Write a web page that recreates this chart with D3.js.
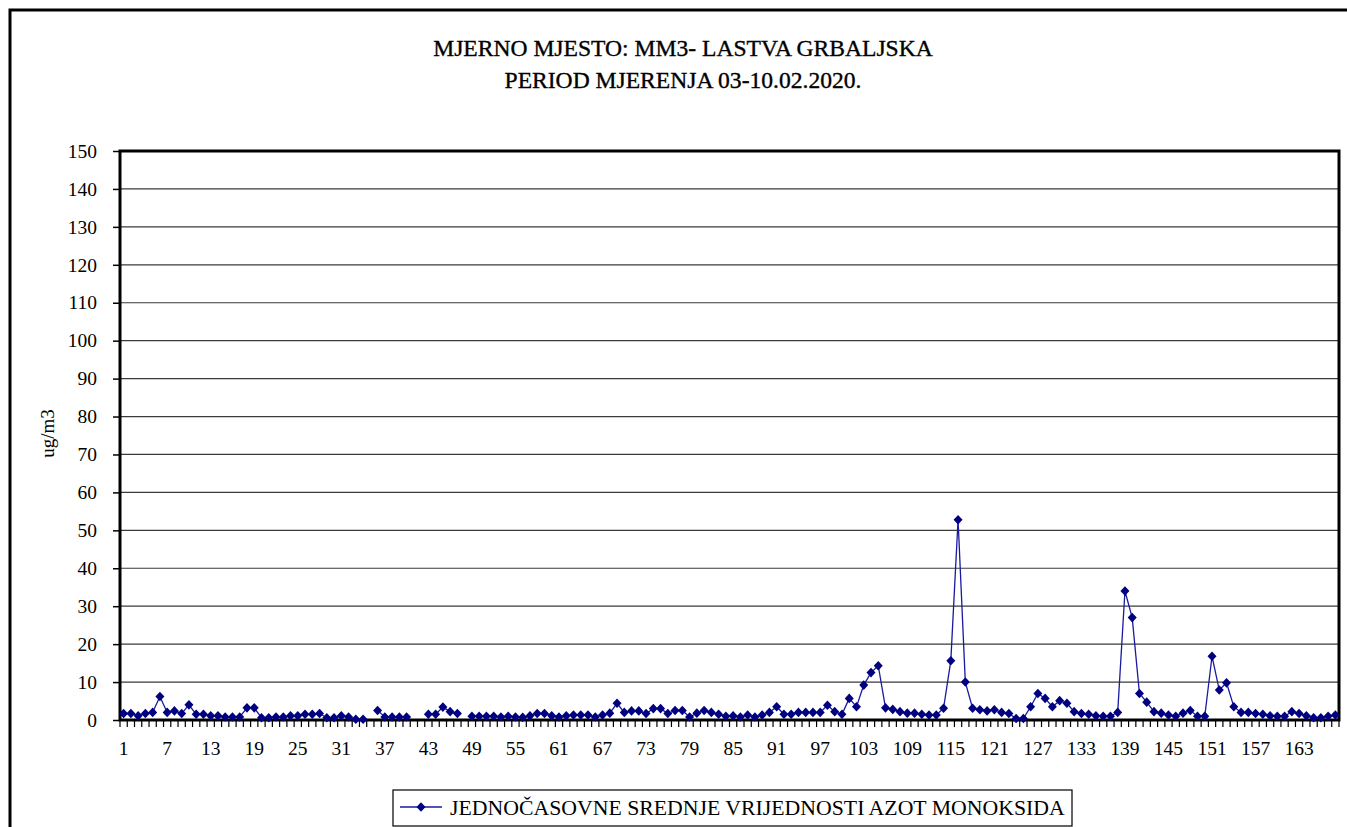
<!DOCTYPE html>
<html><head><meta charset="utf-8">
<script src="https://cdn.jsdelivr.net/npm/d3@7"></script>
<style>
body{margin:0;background:#fff;} svg{display:block;}
svg text{font-family:"Liberation Serif","Times New Roman",serif;}
</style>
</head><body>
<svg id="c" width="1347" height="827"></svg>
<script>
const titleLines = ["MJERNO MJESTO: MM3- LASTVA GRBALJSKA", "PERIOD MJERENJA 03-10.02.2020."];
const yTitle = "ug/m3";
const legendLabel = "JEDNOČASOVNE SREDNJE VRIJEDNOSTI AZOT MONOKSIDA";
const categories = d3.range(1, 169);
const xTickLabels = d3.range(1, 169, 6);
const yTicks = d3.range(0, 151, 10);
const values = [
 1.7,1.7,1.1,1.7,2.0,6.2,2.0,2.4,1.7,4.0,
 1.5,1.5,1.1,1.1,0.8,0.8,0.8,3.2,3.2,0.6,
 0.6,0.8,0.8,1.1,1.1,1.5,1.5,1.7,0.6,0.6,
 1.1,0.8,0.2,0.2,null,2.5,0.8,0.8,0.8,0.8,
 null,null,1.5,1.5,3.4,2.2,1.7,null,1.0,1.0,
 1.0,1.0,0.8,1.0,0.8,0.7,1.1,1.7,1.7,1.1,
 0.8,1.1,1.3,1.3,1.3,0.8,1.3,1.8,4.4,2.0,
 2.4,2.4,1.7,3.0,3.0,1.7,2.5,2.5,0.8,1.8,
 2.5,2.0,1.5,1.0,1.1,0.8,1.3,0.8,1.3,2.0,
 3.5,1.5,1.5,2.0,2.0,2.0,2.0,3.9,2.2,1.5,
 5.7,3.5,9.2,12.5,14.3,3.2,2.8,2.2,1.8,1.8,
 1.5,1.3,1.3,3.1,15.6,52.8,10.0,3.1,2.7,2.4,
 2.7,2.0,1.7,0.4,0.4,3.5,7.0,5.7,3.5,5.1,
 4.4,2.2,1.7,1.5,1.1,1.0,1.0,2.0,34.0,27.0,
 7.0,4.7,2.2,1.8,1.3,1.0,1.8,2.5,1.0,1.0,
 16.8,7.9,9.8,3.5,2.0,2.0,1.7,1.5,1.1,1.0,
 1.0,2.2,1.7,1.1,0.6,0.6,1.0,1.3
];
const data = categories.map((c, i) => ({c, v: values[i]}));

const svg = d3.select("#c");
const L = 120, R = 1339, T = 151, B = 720;

function fitSize(str, target) {
  const t = svg.append("text").style("font-size", "100px").text(str);
  const w = t.node().getComputedTextLength();
  t.remove();
  return 100 * target / w;
}
const titleSize = fitSize(titleLines[0], 500);
const legendSize = fitSize(legendLabel, 615);
const tickSize = 19.5;

// outer chart frame
svg.append("rect").attr("x", 10).attr("y", 10).attr("width", 1347).attr("height", 830)
  .attr("fill", "none").attr("stroke", "#000").attr("stroke-width", 3);

// title
svg.selectAll("text.title").data(titleLines).join("text")
  .attr("class", "title").attr("x", 683).attr("y", (d, i) => 56 + i * 32)
  .attr("text-anchor", "middle").style("font-size", titleSize + "px")
  .attr("stroke", "#000").attr("stroke-width", 0.35)
  .text(d => d);

const x = d3.scaleBand().domain(categories).range([L, R]);
const y = d3.scaleLinear().domain([0, 150]).range([B, T]);

// gridlines
svg.append("g").selectAll("line").data(yTicks.filter(d => d > 0 && d < 150)).join("line")
  .attr("x1", L).attr("x2", R).attr("y1", d => y(d)).attr("y2", d => y(d))
  .attr("stroke", "#3a3a3a").attr("stroke-width", 1.2);

// y axis
const yAxis = d3.axisLeft(y).tickValues(yTicks).tickSize(7).tickSizeOuter(0).tickPadding(16);
const gy = svg.append("g").attr("transform", `translate(${L},0)`).call(yAxis);
gy.attr("font-family", null).attr("font-size", null);
gy.select(".domain").remove();
gy.selectAll("line").attr("stroke", "#000").attr("stroke-width", 1.5);
gy.selectAll("text").style("font-size", tickSize + "px").attr("fill", "#000");

// x axis ticks at category boundaries
const bounds = d3.range(0, 169);
svg.append("g").selectAll("line").data(bounds).join("line")
  .attr("x1", d => L + d * x.step()).attr("x2", d => L + d * x.step())
  .attr("y1", B).attr("y2", B + 7).attr("stroke", "#000").attr("stroke-width", 1.2);
const xAxis = d3.axisBottom(x).tickValues(xTickLabels).tickSize(0).tickPadding(21);
const gx = svg.append("g").attr("transform", `translate(0,${B})`).call(xAxis);
gx.attr("font-family", null).attr("font-size", null);
gx.select(".domain").remove();
gx.selectAll("text").style("font-size", tickSize + "px").attr("fill", "#000");

// plot border
svg.append("rect").attr("x", L).attr("y", T).attr("width", R - L).attr("height", B - T)
  .attr("fill", "none").attr("stroke", "#000").attr("stroke-width", 3);

// y title
svg.append("text").attr("transform", `translate(54,${(T + B) / 2 - 2}) rotate(-90)`)
  .attr("text-anchor", "middle").style("font-size", "19px").text(yTitle);

// line
const cx = d => x(d.c) + x.bandwidth() / 2;
const line = d3.line().defined(d => d.v !== null).x(cx).y(d => y(d.v));
svg.append("path").datum(data).attr("d", line).attr("fill", "none")
  .attr("stroke", "#1a1aa0").attr("stroke-width", 1.3);

const diamond = "M0,-4.8L4.5,0L0,4.8L-4.5,0Z";
svg.append("g").selectAll("path").data(data.filter(d => d.v !== null)).join("path")
  .attr("d", diamond).attr("transform", d => `translate(${cx(d)},${y(d.v)})`)
  .attr("fill", "#000080");

// legend
const lg = svg.append("g");
lg.append("rect").attr("x", 393).attr("y", 790).attr("width", 679).attr("height", 36)
  .attr("fill", "#fff").attr("stroke", "#000").attr("stroke-width", 1.2);
lg.append("line").attr("x1", 400).attr("x2", 442).attr("y1", 807).attr("y2", 807)
  .attr("stroke", "#1a1aa0").attr("stroke-width", 1.3);
lg.append("path").attr("d", diamond).attr("transform", "translate(421,807)").attr("fill", "#000080");
lg.append("text").attr("x", 450).attr("y", 815).style("font-size", legendSize + "px")
  .text(legendLabel);
</script>
</body></html>
